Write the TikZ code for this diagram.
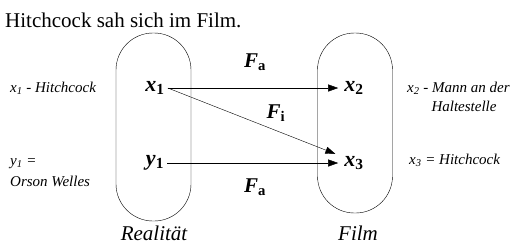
\documentclass[tikz,border=0pt]{standalone}
\usepackage{fontspec}
\setmainfont{Liberation Serif}
\usepackage{tikz}
\usetikzlibrary{
arrows.meta,
positioning
}

\newcommand{\bvar}[2]{\textbf{\textit{#1}}\textsubscript{\textbf{#2}}}
\newcommand{\svar}[2]{\textit{#1}\textsubscript{#2}}

\begin{document}
\begin{tikzpicture}[x=1pt, y=-1pt, >={Triangle[length=10pt, width=7pt]},
  oval/.style={draw, thin, rounded corners=37pt, minimum width=75pt, inner sep=0pt},
  elem/.style={font=\fontsize{22}{26}\selectfont, inner sep=3pt},
  map/.style={->, shorten >=3pt},
  flabel/.style={font=\fontsize{21}{24}\selectfont},
  note/.style={font=\fontsize{15}{18}\selectfont\itshape, inner sep=0pt},
  setname/.style={font=\fontsize{21}{24}\selectfont\itshape, inner sep=0pt}]

\useasboundingbox (0,0) rectangle (522,247);

% Title
\node[anchor=base west, font=\fontsize{21}{25}\selectfont, inner sep=0pt] (title) at (5,27) {Hitchcock sah sich im Film.};

% Ovals
\node[oval, minimum height=188pt] (real) at (153.5,127) {};
\node[oval, minimum height=180pt] (film) at (355,123) {};
\node[setname, anchor=base] (realname) at (154,240) {Realität};
\node[setname, anchor=base] (filmname) at (358,240) {Film};

% Elements
\node[elem] (x1) at (155,88) {\bvar{x}{1}};
\node[elem] (y1) at (155,163) {\bvar{y}{1}};
\node[elem] (x2) at (354,88) {\bvar{x}{2}};
\node[elem] (x3) at (354,163) {\bvar{x}{3}};

% Mappings
\draw[map] (x1.east) -- (x2.west);
\draw[map] (y1.east) -- (x3.west);
\draw[map] (x1.east) -- ([xshift=-3pt, yshift=8pt]x3.west);
\node[flabel, anchor=base] (fa1) at (255,67) {\bvar{F}{a}};
\node[flabel, anchor=base] (fi) at (276,118) {\bvar{F}{i}};
\node[flabel, anchor=base] (fa2) at (255,192) {\bvar{F}{a}};

% Notes
\node[note, anchor=base west] (n1) at (10,92) {\svar{x}{1} - Hitchcock};
\node[note, anchor=base west] (n2) at (10,165) {\svar{y}{1} =};
\node[note, anchor=base west] (n3) at (10,186) {Orson Welles};
\node[note, anchor=base west] (n4) at (407,92) {\svar{x}{2} - Mann an der};
\node[note, anchor=base] (n5) at (464,111) {Haltestelle};
\node[note, anchor=base west] (n6) at (409,164) {\svar{x}{3} = Hitchcock};

\end{tikzpicture}
\end{document}
